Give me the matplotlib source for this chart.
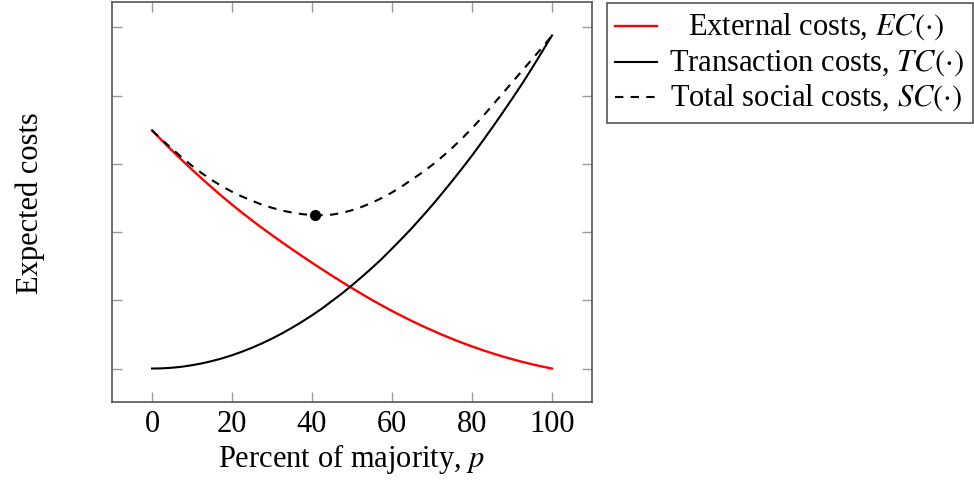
import matplotlib.pyplot as plt
from matplotlib.lines import Line2D
from matplotlib.patches import Rectangle

plt.rcParams['font.family'] = ['Liberation Serif', 'DejaVu Serif']
plt.rcParams['mathtext.fontset'] = 'stix'

# values (arbitrary cost units, ticks unlabeled)
p = [0, 2.5, 5, 7.5, 10, 12.5, 15, 17.5, 20, 22.5, 25, 27.5, 30, 32.5, 35, 37.5,
     40, 42.5, 45, 47.5, 50, 52.5, 55, 57.5, 60, 62.5, 65, 67.5, 70, 72.5,
     75, 77.5, 80, 82.5, 85, 87.5, 90, 92.5, 95, 97.5, 100]
ec = [3.49, 3.34, 3.194, 3.052, 2.914, 2.78, 2.65, 2.524, 2.402, 2.284, 2.17,
      2.06, 1.954, 1.85, 1.748, 1.648, 1.55, 1.454, 1.36, 1.268, 1.178, 1.09,
      1.005, 0.923, 0.844, 0.769, 0.696, 0.626, 0.56, 0.496, 0.436, 0.378,
      0.324, 0.273, 0.225, 0.18, 0.138, 0.099, 0.063, 0.03, 0.0]
tc = [0.0, 0.003, 0.012, 0.027, 0.049, 0.076, 0.11, 0.149, 0.195, 0.247, 0.305,
      0.369, 0.439, 0.515, 0.598, 0.686, 0.78, 0.88, 0.99, 1.10, 1.22, 1.345,
      1.475, 1.61, 1.757, 1.906, 2.06, 2.223, 2.39, 2.565, 2.745, 2.93, 3.12,
      3.32, 3.525, 3.735, 3.95, 4.17, 4.40, 4.64, 4.88]
sc = [3.49, 3.35, 3.22, 3.09, 2.97, 2.86, 2.76, 2.67, 2.59, 2.52, 2.46, 2.40,
      2.355, 2.315, 2.285, 2.262, 2.25, 2.247, 2.255, 2.28, 2.32, 2.37, 2.43, 2.50,
      2.58, 2.67, 2.77, 2.87, 2.98, 3.10, 3.23, 3.37, 3.52, 3.68, 3.85, 4.02,
      4.19, 4.36, 4.53, 4.70, 4.88]
p_min, sc_min = 40.65, 2.245

xticks = [0, 20, 40, 60, 80, 100]
yticks = [0, 1, 2, 3, 4, 5]

fig = plt.figure(figsize=(9.74, 4.81), dpi=100)
ax = fig.add_axes([112/974, 1 - 403/481, 480/974, 400/481])

ax.plot(p, ec, color='red', lw=1.7)
ax.plot(p, tc, color='black', lw=1.5)
ax.plot(p, sc, color='black', lw=1.5, dashes=(4, 3.5))
ax.plot([p_min], [sc_min], 'o', color='black', ms=7)

ax.set_xlim(-10, 110)
ax.set_ylim(-0.49, 5.37)
ax.set_xticks(xticks)
ax.set_yticks(yticks)
ax.set_yticklabels([])
ax.tick_params(direction='in', length=7, width=1, color='#999999',
               top=True, right=True, labelsize=22, pad=5)
for s in ax.spines.values():
    s.set_color('#555555')
    s.set_linewidth(1.2)

ax.set_xlabel('Percent of majority, $p$', fontsize=22, labelpad=2)
ax.set_ylabel('Expected costs', fontsize=22, labelpad=43)

# legend box outside the axes, text centred like pgfplots
W, H = 974, 481
fig.add_artist(Rectangle((607/W, 1 - 124/H), 366/W, 120/H, transform=fig.transFigure,
                         fill=False, edgecolor='#555555', lw=1.2))
entries = [
    ('External costs, $EC(\\cdot)$', dict(color='red', lw=1.7), 27),
    ('Transaction costs, $TC(\\cdot)$', dict(color='black', lw=1.5), 63),
    ('Total social costs, $SC(\\cdot)$', dict(color='black', lw=1.5, dashes=(4, 3.5)), 98),
]
for label, style, yy in entries:
    fig.add_artist(Line2D([615/W, 657/W], [1 - yy/H, 1 - yy/H],
                          transform=fig.transFigure, **style))
    fig.text(816/W, 1 - yy/H, label, ha='center', va='center', fontsize=22)

fig.savefig('out.png', dpi=100)
